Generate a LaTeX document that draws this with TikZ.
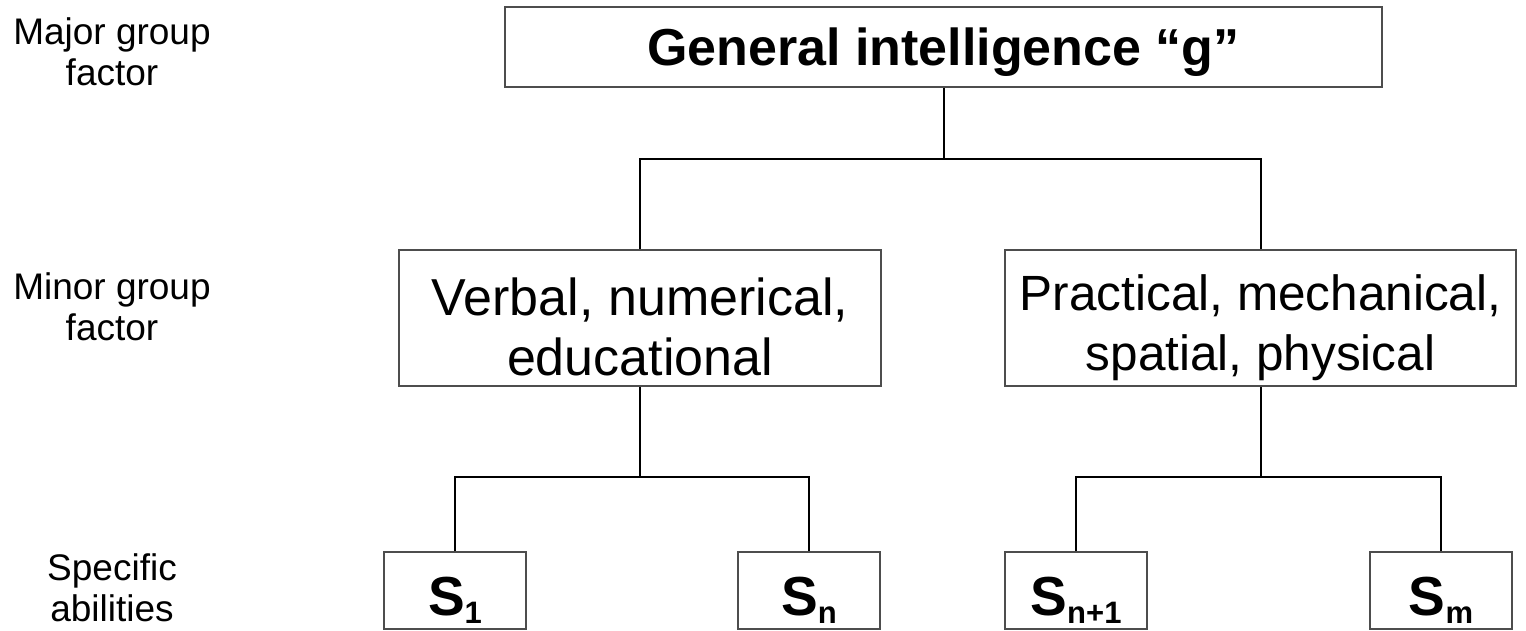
\documentclass[tikz,border=0pt]{standalone}
\usepackage{fontspec}
\setmainfont{Liberation Sans}
\definecolor{boxgray}{HTML}{4D4D4D}
\begin{document}
\begin{tikzpicture}[x=1pt,y=-1pt,
  box/.style={draw=boxgray,line width=2pt,inner sep=0pt,minimum height=#1,align=center},
  box/.default=80pt,
  link/.style={draw=black,line width=2pt},
  side/.style={align=center,font=\fontsize{37}{41}\selectfont},
  sbox/.style={draw=boxgray,line width=2pt,inner sep=0pt,minimum width=142pt,minimum height=77pt,
    text height=50pt,text depth=0pt,font=\fontsize{55}{60}\selectfont\bfseries}]
\useasboundingbox (0,0) rectangle (1526,631);
% side labels
\node[side] (lmajor) at (112,52) {Major group\\factor};
\node[side] (lminor) at (112,307) {Minor group\\factor};
\node[side] (lspec) at (112,588) {Specific\\abilities};
% main boxes
\node[box=80pt,minimum width=877pt,line width=2.5pt,font=\fontsize{52}{60}\selectfont\bfseries,
  text height=38pt,text depth=0pt] (g) at (943.5,47) {General intelligence “g”};
\node[box=136pt,minimum width=482pt,font=\fontsize{52}{60}\selectfont] (verbal) at (640,318)
  {\rule{0pt}{56pt}Verbal, numerical,\\educational};
\node[box=136pt,minimum width=511pt,font=\fontsize{49.5}{60}\selectfont] (practical) at (1260.5,318)
  {\rule{0pt}{56pt}Practical, mechanical,\\spatial, physical};
% specific abilities
\node[sbox] (s1) at (455,590.5) {S\raisebox{-8pt}{\fontsize{31}{34}\selectfont 1}};
\node[sbox] (sn) at (809,590.5) {S\raisebox{-8pt}{\fontsize{31}{34}\selectfont n}};
\node[sbox] (sn1) at (1076,590.5) {S\raisebox{-8pt}{\fontsize{31}{34}\selectfont n+1}};
\node[sbox] (sm) at (1441,590.5) {S\raisebox{-8pt}{\fontsize{31}{34}\selectfont m}};
% connectors
\coordinate (bar1) at (0,159);
\coordinate (bar2) at (0,477);
\draw[link] (g.south) -- (g.south |- bar1);
\draw[link] (verbal.north) |- (g.south |- bar1) -| (practical.north);
\draw[link] (verbal.south) -- (verbal.south |- bar2);
\draw[link] (s1.north) |- (verbal.south |- bar2) -| (sn.north);
\draw[link] (practical.south) -- (practical.south |- bar2);
\draw[link] (sn1.north) |- (practical.south |- bar2) -| (sm.north);
\end{tikzpicture}
\end{document}
